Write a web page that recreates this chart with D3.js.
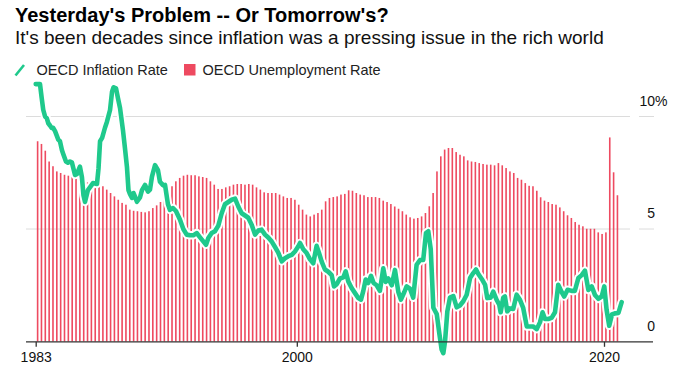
<!DOCTYPE html>
<html>
<head>
<meta charset="utf-8">
<script src="https://cdn.jsdelivr.net/npm/d3@7"></script>
<style>
  body { margin: 0; background: #fff; }
  text { font-family: "Liberation Sans", Arial, sans-serif; }
</style>
</head>
<body>
<script>
// Quarterly OECD unemployment rate, first bar is 1983 Q1
var unemploymentStart = 1983;
var unemployment = [
    8.9, 8.78, 8.48, 8.0, 7.79, 7.56, 7.49, 7.41, 7.37, 7.31,
    7.27, 7.19, 7.12, 7.07, 7.04, 7.0, 7.0, 6.9, 6.75, 6.6,
    6.45, 6.3, 6.16, 6.08, 5.86, 5.81, 5.79, 5.76, 5.74, 5.79,
    5.93, 6.05, 6.2, 6.4, 6.6, 6.9, 7.12, 7.27, 7.37, 7.41,
    7.39, 7.39, 7.34, 7.31, 7.27, 7.12, 6.97, 6.78, 6.78, 6.85,
    6.9, 6.97, 7.0, 7.0, 6.97, 7.0, 6.97, 6.85, 6.75, 6.63,
    6.6, 6.6, 6.6, 6.53, 6.45, 6.38, 6.38, 6.3, 6.08, 5.86,
    5.64, 5.56, 5.64, 5.71, 5.86, 6.23, 6.38, 6.42, 6.45, 6.53,
    6.56, 6.72, 6.7, 6.6, 6.53, 6.5, 6.42, 6.42, 6.42, 6.38,
    6.26, 6.2, 6.11, 6.0, 5.9, 5.79, 5.64, 5.52, 5.46, 5.49,
    5.56, 5.71, 6.01, 6.6, 7.56, 8.23, 8.53, 8.6, 8.6, 8.42,
    8.3, 8.23, 8.05, 8.0, 7.98, 7.93, 7.89, 7.86, 7.86, 7.83,
    7.93, 7.83, 7.71, 7.56, 7.49, 7.27, 7.19, 7.04, 6.92, 6.9,
    6.7, 6.41, 6.26, 6.2, 6.11, 6.08, 5.96, 5.79, 5.61, 5.49,
    5.31, 5.19, 5.12, 5.01, 5.01, 5.01, 4.85, 4.78, 4.85, 9.07,
    7.52, 6.5
];

// OECD inflation rate (decimal year, percent)
var inflationYears = [
    1983.0, 1983.28, 1983.39, 1983.49, 1983.61, 1983.72, 1983.82, 1983.93, 1984.04, 1984.13,
    1984.26, 1984.47, 1984.58, 1984.71, 1984.81, 1984.97, 1985.1, 1985.23, 1985.36, 1985.56,
    1985.69, 1985.88, 1986.01, 1986.11, 1986.21, 1986.4, 1986.53, 1986.73, 1986.99, 1987.09,
    1987.19, 1987.32, 1987.51, 1987.64, 1987.84, 1987.97, 1988.07, 1988.23, 1988.36, 1988.49,
    1988.68, 1988.81, 1988.94, 1989.04, 1989.14, 1989.27, 1989.37, 1989.46, 1989.59, 1989.79,
    1989.92, 1990.12, 1990.31, 1990.44, 1990.57, 1990.77, 1990.96, 1991.09, 1991.29, 1991.42,
    1991.61, 1991.74, 1991.94, 1992.13, 1992.39, 1992.61, 1992.83, 1993.04, 1993.26, 1993.48,
    1993.7, 1993.91, 1994.09, 1994.24, 1994.46, 1994.67, 1994.89, 1995.11, 1995.32, 1995.54,
    1995.76, 1995.98, 1996.19, 1996.41, 1996.63, 1996.84, 1997.06, 1997.28, 1997.49, 1997.71,
    1997.93, 1998.14, 1998.36, 1998.58, 1998.79, 1999.02, 1999.23, 1999.45, 1999.67, 1999.88,
    2000.1, 2000.21, 2000.42, 2000.64, 2000.86, 2001.07, 2001.29, 2001.44, 2001.62, 2001.83,
    2002.05, 2002.27, 2002.42, 2002.6, 2002.81, 2003.03, 2003.18, 2003.35, 2003.57, 2003.79,
    2004.0, 2004.18, 2004.33, 2004.48, 2004.65, 2004.83, 2005.0, 2005.2, 2005.41, 2005.63,
    2005.79, 2005.96, 2006.18, 2006.39, 2006.61, 2006.78, 2007.0, 2007.15, 2007.37, 2007.58,
    2007.8, 2008.02, 2008.23, 2008.41, 2008.56, 2008.72, 2008.89, 2009.11, 2009.28, 2009.43,
    2009.54, 2009.65, 2009.8, 2009.97, 2010.19, 2010.41, 2010.62, 2010.84, 2011.06, 2011.28,
    2011.49, 2011.67, 2011.82, 2012.04, 2012.26, 2012.4, 2012.62, 2012.79, 2013.01, 2013.18,
    2013.27, 2013.44, 2013.55, 2013.7, 2013.88, 2014.09, 2014.31, 2014.53, 2014.74, 2014.97,
    2015.18, 2015.38, 2015.62, 2015.83, 2016.0, 2016.16, 2016.37, 2016.59, 2016.81, 2017.02,
    2017.24, 2017.41, 2017.63, 2017.89, 2018.1, 2018.33, 2018.55, 2018.76, 2018.98, 2019.2,
    2019.41, 2019.63, 2019.85, 2020.02, 2020.17, 2020.34, 2020.52, 2020.71, 2020.94, 2021.15
];
var inflationRates = [
    11.44, 11.44, 10.82, 10.3, 10.0, 9.93, 9.7, 9.6, 9.49, 9.5,
    9.35, 8.97, 8.9, 8.5, 8.3, 8.0, 7.95, 8.0, 7.95, 7.4,
    7.45, 7.77, 7.3, 6.5, 6.2, 6.73, 6.85, 7.04, 7.0, 7.7,
    8.9, 9.04, 9.5, 9.77, 10.29, 11.1, 11.3, 11.25, 10.8, 10.38,
    9.4, 8.6, 7.77, 6.73, 6.55, 6.38, 6.6, 6.45, 6.21, 6.4,
    6.73, 6.96, 6.66, 6.75, 7.33, 7.84, 7.62, 7.1, 6.94, 6.96,
    6.1, 5.85, 5.93, 5.8, 5.42, 5.0, 4.75, 4.72, 4.72, 4.82,
    4.63, 4.45, 4.3, 4.6, 4.82, 4.9, 5.15, 5.7, 6.1, 6.2,
    6.3, 6.35, 6.0, 5.7, 5.6, 5.5, 5.19, 4.75, 4.93, 4.97,
    4.75, 4.62, 4.45, 4.2, 3.95, 3.56, 3.7, 3.79, 3.85, 4.0,
    4.23, 4.38, 4.1, 3.93, 3.65, 3.48, 4.25, 3.95, 3.55, 3.2,
    3.1, 2.95, 2.45, 2.55, 2.8, 2.85, 3.12, 2.67, 2.38, 2.15,
    1.93, 1.86, 2.25, 2.75, 2.6, 2.92, 2.6, 2.5, 2.25, 3.25,
    2.65, 2.8, 2.5, 3.18, 2.2, 1.86, 2.2, 2.45, 2.35, 1.95,
    3.41, 3.62, 3.62, 4.82, 4.9, 4.1, 1.5, 1.22, 0.35, -0.36,
    -0.52, 0.0, 1.34, 1.95, 2.02, 1.52, 1.6, 1.79, 2.08, 2.82,
    3.04, 3.2, 3.0, 2.78, 2.52, 1.93, 1.95, 2.22, 1.85, 1.64,
    1.3, 1.95, 2.0, 1.34, 1.47, 1.45, 2.08, 1.85, 1.49, 0.67,
    0.67, 0.67, 0.55, 0.85, 1.3, 1.0, 1.0, 1.05, 1.3, 2.52,
    2.2, 2.0, 2.3, 2.25, 2.25, 2.82, 2.95, 3.15, 2.29, 2.45,
    2.07, 1.9, 2.0, 2.45, 1.4, 0.7, 1.2, 1.25, 1.27, 1.75
];

var xTicks = [1983, 2000, 2020];
var yTicks = [0, 5, 10];

var lineColor = "#1fc98c";
var barColor = "#ee4a60";

var w = 680;
var h = 374;

// scales
var x = d3.scaleLinear()
    .domain([1983, 2020])
    .range([35.7, 604]);

var y = d3.scaleLinear()
    .domain([0, 10])
    .range([341.5, 116.5]);

var svg = d3.select("body")
    .append("svg")
    .attr("width", w)
    .attr("height", h);

// title block
svg.append("text")
    .attr("x", 15)
    .attr("y", 21.5)
    .style("font-size", "20px")
    .style("font-weight", "bold")
    .style("fill", "#000")
    .text("Yesterday's Problem -- Or Tomorrow's?");

svg.append("text")
    .attr("x", 15)
    .attr("y", 44)
    .style("font-size", "19px")
    .style("fill", "#111")
    .text("It's been decades since inflation was a pressing issue in the rich world");

// legend
svg.append("line")
    .attr("x1", 15.5).attr("y1", 75.5)
    .attr("x2", 24).attr("y2", 65)
    .attr("stroke", lineColor)
    .attr("stroke-width", 2.6);

svg.append("text")
    .attr("x", 36.5)
    .attr("y", 75)
    .style("font-size", "14.5px")
    .style("fill", "#222")
    .text("OECD Inflation Rate");

svg.append("rect")
    .attr("x", 184).attr("y", 64)
    .attr("width", 11.5).attr("height", 11.5)
    .attr("fill", barColor);

svg.append("text")
    .attr("x", 202.5)
    .attr("y", 75)
    .style("font-size", "14.5px")
    .style("fill", "#222")
    .text("OECD Unemployment Rate");

// gridlines (with a small gap before the labels)
var grid = svg.append("g");
yTicks.filter(function(d){ return d > 0; }).forEach(function(d){
    grid.append("line")
        .attr("x1", 26).attr("x2", 630)
        .attr("y1", y(d)).attr("y2", y(d))
        .attr("stroke", "#dcdcdc").attr("stroke-width", 1);
    grid.append("line")
        .attr("x1", 639).attr("x2", 654)
        .attr("y1", y(d)).attr("y2", y(d))
        .attr("stroke", "#dcdcdc").attr("stroke-width", 1);
});

// y labels sit above their gridline, numbers right aligned, % hanging
svg.selectAll(".ylab")
    .data(yTicks)
    .enter()
    .append("text")
    .attr("class", "ylab")
    .attr("x", 655)
    .attr("y", function(d){ return y(d) - 10.8; })
    .attr("text-anchor", "end")
    .style("font-size", "14px")
    .style("fill", "#111")
    .text(function(d){ return d; });

svg.append("text")
    .attr("x", 655)
    .attr("y", y(10) - 10.8)
    .style("font-size", "14px")
    .style("fill", "#111")
    .text("%");

// unemployment bars, one per quarter
var barWidth = 1.6;
svg.append("g")
    .selectAll("rect")
    .data(unemployment)
    .enter()
    .append("rect")
    .attr("x", function(d, i){ return x(unemploymentStart + i * 0.25 + 0.125) - barWidth / 2; })
    .attr("y", function(d){ return y(d); })
    .attr("width", barWidth)
    .attr("height", function(d){ return y(0) - y(d); })
    .attr("fill", barColor);

// inflation line with a white halo
var inflation = inflationYears.map(function(t, i){ return [t, inflationRates[i]]; });

var line = d3.line()
    .x(function(d){ return x(d[0]); })
    .y(function(d){ return y(d[1]); });

svg.append("path")
    .datum(inflation)
    .attr("d", line)
    .attr("fill", "none")
    .attr("stroke", "#fff")
    .attr("stroke-width", 8.5)
    .attr("stroke-linejoin", "round")
    .attr("stroke-linecap", "round");

svg.append("path")
    .datum(inflation)
    .attr("d", line)
    .attr("fill", "none")
    .attr("stroke", lineColor)
    .attr("stroke-width", 4.6)
    .attr("stroke-linejoin", "round")
    .attr("stroke-linecap", "round");

// x axis
svg.append("line")
    .attr("x1", 26).attr("x2", 653)
    .attr("y1", y(0) + 0.3).attr("y2", y(0) + 0.3)
    .attr("stroke", "#333")
    .attr("stroke-width", 1.3);

var xAxis = d3.axisBottom(x)
    .tickValues(xTicks)
    .tickFormat(d3.format("d"))
    .tickSize(5)
    .tickPadding(5);

var gx = svg.append("g")
    .attr("transform", "translate(0," + (y(0) + 0.3) + ")")
    .call(xAxis);

gx.select(".domain").remove();
gx.selectAll(".tick line").attr("stroke", "#333").attr("stroke-width", 1.3);
gx.selectAll(".tick text")
    .style("font-size", "14px")
    .style("font-family", "'Liberation Sans', Arial, sans-serif")
    .style("fill", "#111");
</script>
</body>
</html>
